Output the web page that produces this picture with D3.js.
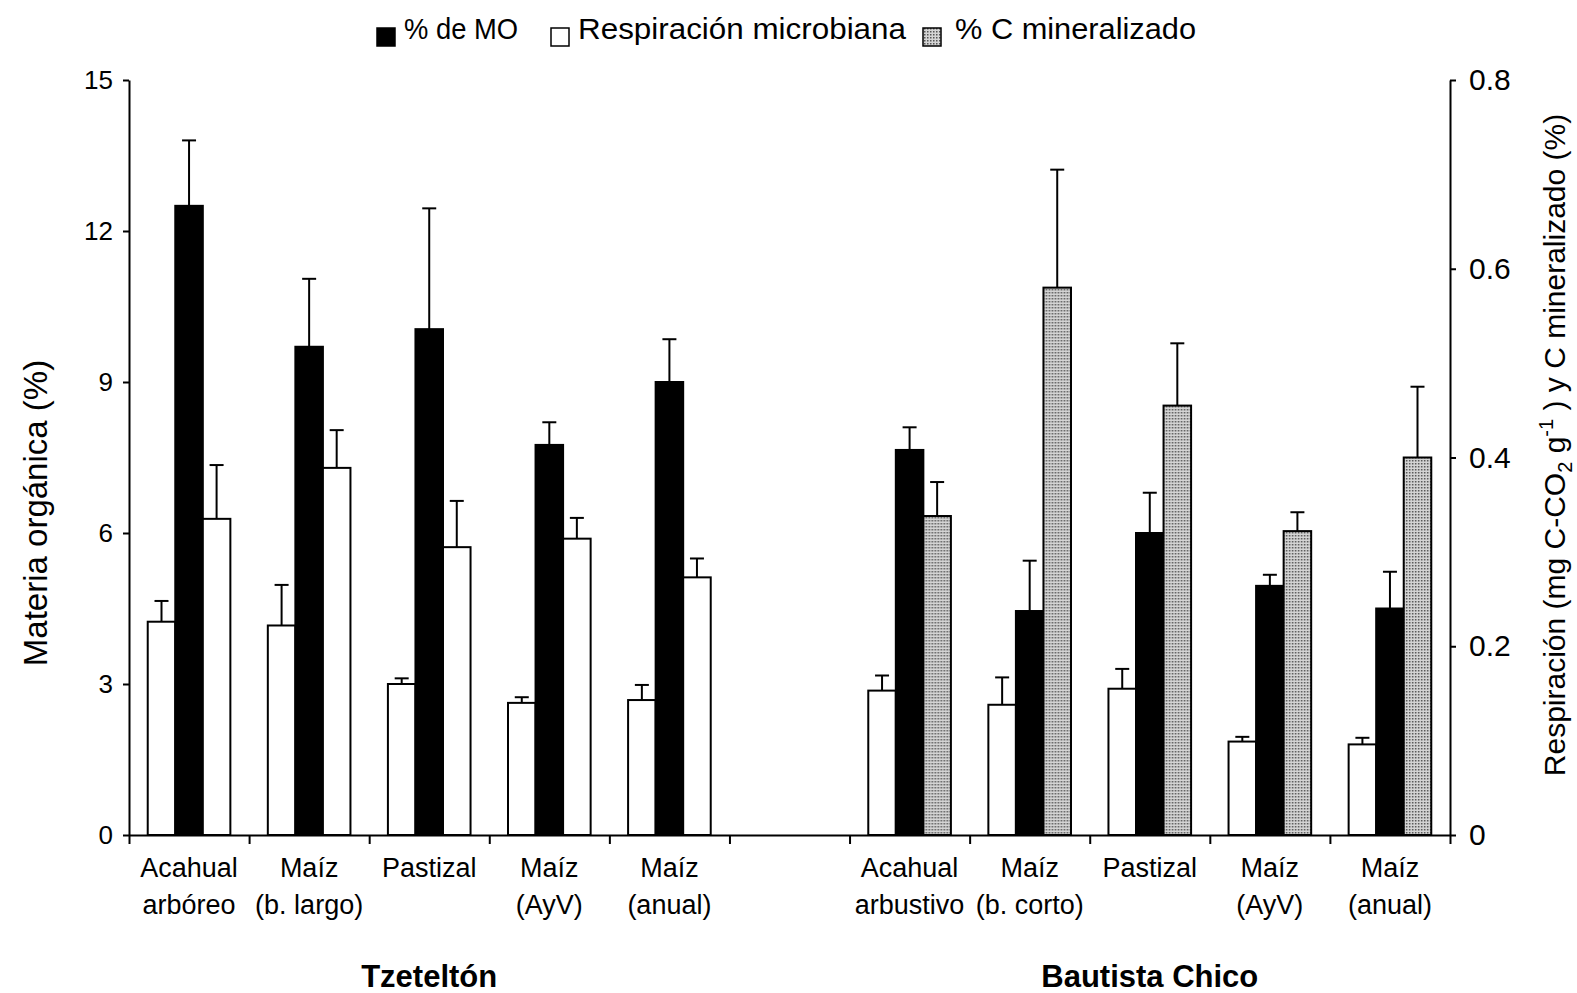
<!DOCTYPE html>
<html>
<head>
<meta charset="utf-8">
<script src="https://cdn.jsdelivr.net/npm/d3@7"></script>
<style>
  body { margin: 0; background: #fff; }
  text { font-family: "Liberation Sans", Arial, sans-serif; fill: #000; }
</style>
</head>
<body>
<div id="chart"></div>
<script>
// categories (two text lines each) for both sites
const sites = ["Tzeteltón", "Bautista Chico"];
const tzCategories = [["Acahual", "arbóreo"], ["Maíz", "(b. largo)"], ["Pastizal", ""], ["Maíz", "(AyV)"], ["Maíz", "(anual)"]];
const bcCategories = [["Acahual", "arbustivo"], ["Maíz", "(b. corto)"], ["Pastizal", ""], ["Maíz", "(AyV)"], ["Maíz", "(anual)"]];

// % de MO (left axis)
const tzMO = [12.5, 9.7, 10.05, 7.75, 9.0];
const tzMOErr = [1.3, 1.35, 2.4, 0.45, 0.85];
const bcMO = [7.65, 4.45, 6.0, 4.95, 4.5];
const bcMOErr = [0.45, 1.0, 0.8, 0.22, 0.73];

// Respiración microbiana (right axis)
const tzResp = [0.226, 0.222, 0.160, 0.140, 0.143];
const tzRespErr = [0.022, 0.043, 0.006, 0.006, 0.016];
const bcResp = [0.153, 0.138, 0.155, 0.099, 0.096];
const bcRespErr = [0.016, 0.029, 0.021, 0.005, 0.007];

// % C mineralizado (right axis)
const tzCmin = [0.335, 0.389, 0.305, 0.314, 0.273];
const tzCminErr = [0.057, 0.040, 0.049, 0.022, 0.020];
const bcCmin = [0.338, 0.580, 0.455, 0.322, 0.400];
const bcCminErr = [0.036, 0.125, 0.066, 0.020, 0.075];

const leftTicks = [0, 3, 6, 9, 12, 15];
const rightTicks = [0, 0.2, 0.4, 0.6, 0.8];

const width = 1577;
const height = 993;
const plot = { left: 129, right: 1450, top: 80, bottom: 835 };

// build rows
function buildRows(site, cats, mo, moErr, resp, respErr, cmin, cminErr, fill) {
  return cats.map((c, i) => ({
    key: site + i, site, label: c,
    mo: mo[i], moErr: moErr[i],
    resp: resp[i], respErr: respErr[i],
    cmin: cmin[i], cminErr: cminErr[i],
    cminFill: fill
  }));
}
const tzRows = buildRows(sites[0], tzCategories, tzMO, tzMOErr, tzResp, tzRespErr, tzCmin, tzCminErr, "#fff");
const bcRows = buildRows(sites[1], bcCategories, bcMO, bcMOErr, bcResp, bcRespErr, bcCmin, bcCminErr, "url(#dots)");
const rows = tzRows.concat(bcRows);

const x0 = d3.scaleBand()
  .domain([...tzRows.map(d => d.key), "sep", ...bcRows.map(d => d.key)])
  .range([plot.left, plot.right])
  .padding(0);

const x1 = d3.scaleBand()
  .domain(["resp", "mo", "cmin"])
  .range([0, x0.bandwidth()])
  .paddingInner(0)
  .paddingOuter(0.68);

const yL = d3.scaleLinear().domain([0, 15]).range([plot.bottom, plot.top]);
const yR = d3.scaleLinear().domain([0, 0.8]).range([plot.bottom, plot.top]);

const svg = d3.select("#chart")
  .append("svg")
  .attr("width", width)
  .attr("height", height);

svg.append("rect").attr("width", width).attr("height", height).attr("fill", "#fff");

// stippled gray fill
const pat = svg.append("defs").append("pattern")
  .attr("id", "dots")
  .attr("width", 3)
  .attr("height", 3)
  .attr("patternUnits", "userSpaceOnUse");
pat.append("rect").attr("width", 3).attr("height", 3).attr("fill", "#d4d4d4");
pat.append("rect").attr("x", 1).attr("y", 1).attr("width", 1.5).attr("height", 1.5).attr("fill", "#555");

// series description
const series = [
  { id: "resp", value: d => d.resp, err: d => d.respErr, scale: yR, fill: () => "#fff" },
  { id: "mo", value: d => d.mo, err: d => d.moErr, scale: yL, fill: () => "#000" },
  { id: "cmin", value: d => d.cmin, err: d => d.cminErr, scale: yR, fill: d => d.cminFill }
];

const groups = svg.append("g")
  .selectAll("g")
  .data(rows)
  .join("g")
  .attr("transform", d => `translate(${x0(d.key)},0)`);

series.forEach(s => {
  // error bars first, bars on top
  groups.append("line")
    .attr("x1", x1(s.id) + x1.bandwidth() / 2)
    .attr("x2", x1(s.id) + x1.bandwidth() / 2)
    .attr("y1", d => s.scale(s.value(d)))
    .attr("y2", d => s.scale(s.value(d) + s.err(d)))
    .attr("stroke", "#000")
    .attr("stroke-width", 2);
  groups.append("line")
    .attr("x1", x1(s.id) + x1.bandwidth() / 2 - 7)
    .attr("x2", x1(s.id) + x1.bandwidth() / 2 + 7)
    .attr("y1", d => s.scale(s.value(d) + s.err(d)))
    .attr("y2", d => s.scale(s.value(d) + s.err(d)))
    .attr("stroke", "#000")
    .attr("stroke-width", 2);
  groups.append("rect")
    .attr("x", x1(s.id))
    .attr("width", x1.bandwidth())
    .attr("y", d => s.scale(s.value(d)))
    .attr("height", d => plot.bottom - s.scale(s.value(d)))
    .attr("fill", d => s.fill(d))
    .attr("stroke", "#000")
    .attr("stroke-width", 2);
});

// axes
const xb = d3.scaleLinear().domain([0, x0.domain().length]).range([plot.left, plot.right]);
svg.append("g")
  .attr("transform", `translate(0,${plot.bottom})`)
  .call(d3.axisBottom(xb).tickValues(d3.range(0, x0.domain().length + 1)).tickSize(9).tickSizeOuter(0).tickFormat(""))
  .call(g => g.selectAll("path,line").attr("stroke", "#000").attr("stroke-width", 2));

svg.append("g")
  .attr("transform", `translate(${plot.left},0)`)
  .call(d3.axisLeft(yL).tickValues(leftTicks).tickSize(6).tickSizeOuter(0).tickPadding(10))
  .call(g => g.selectAll("path,line").attr("stroke", "#000").attr("stroke-width", 2))
  .call(g => g.selectAll("text").style("font-size", "26px").attr("font-family", "Liberation Sans, Arial, sans-serif"));

svg.append("g")
  .attr("transform", `translate(${plot.right},0)`)
  .call(d3.axisRight(yR).tickValues(rightTicks).tickSize(6).tickSizeOuter(0).tickPadding(13)
    .tickFormat(d => d === 0 ? "0" : d.toFixed(1)))
  .call(g => g.selectAll("path,line").attr("stroke", "#000").attr("stroke-width", 2))
  .call(g => g.selectAll("text").style("font-size", "30px").attr("font-family", "Liberation Sans, Arial, sans-serif"));

// category labels
const catLabels = svg.append("g")
  .selectAll("text")
  .data(rows)
  .join("text")
  .attr("text-anchor", "middle")
  .style("font-size", "27px");
catLabels.append("tspan")
  .attr("x", d => x0(d.key) + x0.bandwidth() / 2)
  .attr("y", 877)
  .text(d => d.label[0]);
catLabels.append("tspan")
  .attr("x", d => x0(d.key) + x0.bandwidth() / 2)
  .attr("y", 914)
  .text(d => d.label[1]);

// site labels
const siteRows = [tzRows, bcRows];
svg.append("g")
  .selectAll("text")
  .data(sites)
  .join("text")
  .attr("x", (d, i) => (x0(siteRows[i][0].key) + x0(siteRows[i][siteRows[i].length - 1].key) + x0.bandwidth()) / 2)
  .attr("y", 987)
  .attr("text-anchor", "middle")
  .style("font-size", "31px")
  .style("font-weight", "bold")
  .text(d => d);

// axis titles
svg.append("text")
  .attr("transform", "translate(47,513) rotate(-90)")
  .attr("text-anchor", "middle")
  .style("font-size", "33px")
  .text("Materia orgánica (%)");

const rt = svg.append("text")
  .attr("transform", "translate(1565,445) rotate(-90)")
  .attr("text-anchor", "middle")
  .style("font-size", "30px");
rt.append("tspan").text("Respiración (mg C-CO");
rt.append("tspan").attr("dy", 7).style("font-size", "20px").text("2");
rt.append("tspan").attr("dy", -7).text(" g");
rt.append("tspan").attr("dy", -12).style("font-size", "20px").text("-1");
rt.append("tspan").attr("dy", 12).text(" ) y C mineralizado (%)");

// legend
const legendItems = [
  { label: "% de MO", fill: "#000", x: 377, len: 114 },
  { label: "Respiración microbiana", fill: "#fff", x: 551, len: 328 },
  { label: "% C mineralizado", fill: "url(#dots)", x: 923, len: 241 }
];
const leg = svg.append("g")
  .selectAll("g")
  .data(legendItems)
  .join("g")
  .attr("transform", d => `translate(${d.x},0)`);
leg.append("rect")
  .attr("x", 0).attr("y", 28)
  .attr("width", 18).attr("height", 18)
  .attr("fill", d => d.fill)
  .attr("stroke", "#000")
  .attr("stroke-width", 1.5);
leg.append("text")
  .attr("x", (d, i) => i === 2 ? 32 : 27).attr("y", 39)
  .style("font-size", "29px")
  .attr("textLength", d => d.len)
  .attr("lengthAdjust", "spacingAndGlyphs")
  .text(d => d.label);
</script>
</body>
</html>
